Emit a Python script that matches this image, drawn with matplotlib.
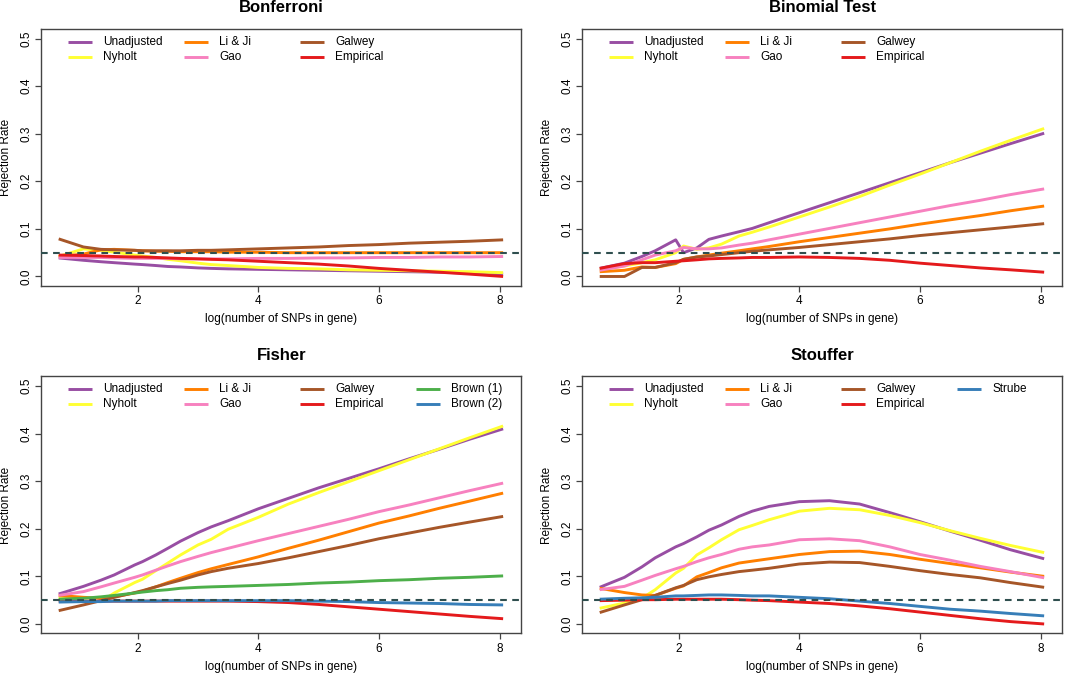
import matplotlib
matplotlib.use("Agg")
import matplotlib.pyplot as plt

plt.rcParams["font.family"] = ["Liberation Sans", "DejaVu Sans"]

# shared x grid: log(number of SNPs in gene)
x_log = [0.69, 1.10, 1.39, 1.61, 1.95, 2.08, 2.30, 2.50, 2.71, 3.00, 3.22,
         3.50, 4.00, 4.50, 5.00, 5.50, 6.00, 6.50, 7.00, 7.50, 8.06]

# Bonferroni
bonf_unadj = [0.039, 0.034, 0.031, 0.029, 0.026, 0.025, 0.023, 0.021, 0.020, 0.018, 0.017,
              0.016, 0.015, 0.014, 0.013, 0.012, 0.011, 0.010, 0.009, 0.007, 0.005]
bonf_nyholt = [0.042, 0.058, 0.055, 0.051, 0.045, 0.043, 0.040, 0.036, 0.033, 0.028, 0.025,
               0.023, 0.019, 0.017, 0.016, 0.014, 0.013, 0.012, 0.011, 0.010, 0.008]
bonf_liji = [0.042, 0.047, 0.056, 0.057, 0.055, 0.054, 0.053, 0.053, 0.052, 0.052, 0.052,
             0.051, 0.051, 0.050, 0.050, 0.050, 0.050, 0.050, 0.050, 0.050, 0.050]
bonf_gao = [0.040, 0.040, 0.040, 0.039, 0.038, 0.038, 0.038, 0.038, 0.037, 0.037, 0.037,
            0.037, 0.038, 0.038, 0.039, 0.039, 0.040, 0.040, 0.041, 0.041, 0.042]
bonf_galwey = [0.079, 0.062, 0.057, 0.056, 0.055, 0.054, 0.054, 0.054, 0.054, 0.055, 0.055,
               0.056, 0.058, 0.060, 0.062, 0.065, 0.067, 0.070, 0.072, 0.074, 0.077]
bonf_emp = [0.045, 0.044, 0.043, 0.042, 0.041, 0.041, 0.040, 0.039, 0.038, 0.037, 0.036,
            0.035, 0.032, 0.029, 0.026, 0.022, 0.017, 0.013, 0.009, 0.005, 0.000]

# Binomial test
binom_unadj = [0.017, 0.028, 0.042, 0.054, 0.077, 0.050, 0.060, 0.078, 0.085, 0.094, 0.101,
               0.113, 0.134, 0.155, 0.176, 0.197, 0.218, 0.239, 0.259, 0.279, 0.301]
binom_nyholt = [0.015, 0.022, 0.029, 0.035, 0.050, 0.064, 0.057, 0.060, 0.068, 0.085, 0.093,
                0.104, 0.125, 0.146, 0.168, 0.192, 0.215, 0.239, 0.263, 0.286, 0.311]
binom_liji = [0.010, 0.013, 0.020, 0.019, 0.027, 0.036, 0.041, 0.045, 0.049, 0.054, 0.058,
              0.063, 0.073, 0.082, 0.091, 0.100, 0.110, 0.119, 0.128, 0.138, 0.148]
binom_gao = [0.013, 0.022, 0.035, 0.045, 0.054, 0.061, 0.058, 0.058, 0.060, 0.066, 0.070,
             0.077, 0.089, 0.101, 0.113, 0.125, 0.137, 0.149, 0.160, 0.172, 0.184]
binom_galwey = [0.000, 0.000, 0.019, 0.019, 0.029, 0.036, 0.041, 0.043, 0.046, 0.050, 0.053,
                0.056, 0.061, 0.067, 0.073, 0.079, 0.086, 0.092, 0.098, 0.104, 0.111]
binom_emp = [0.017, 0.027, 0.029, 0.029, 0.032, 0.033, 0.035, 0.037, 0.038, 0.039, 0.040,
             0.040, 0.041, 0.040, 0.038, 0.034, 0.028, 0.023, 0.018, 0.014, 0.009]

# Fisher
fish_unadj = [0.063, 0.079, 0.092, 0.103, 0.124, 0.131, 0.145, 0.159, 0.174, 0.192, 0.204,
              0.217, 0.242, 0.264, 0.286, 0.306, 0.326, 0.347, 0.367, 0.388, 0.410]
fish_nyholt = [0.056, 0.048, 0.047, 0.065, 0.087, 0.094, 0.112, 0.128, 0.145, 0.166, 0.178,
               0.199, 0.224, 0.252, 0.276, 0.299, 0.322, 0.345, 0.368, 0.391, 0.416]
fish_liji = [0.060, 0.056, 0.054, 0.057, 0.065, 0.069, 0.078, 0.087, 0.096, 0.108, 0.116,
             0.125, 0.141, 0.159, 0.176, 0.194, 0.212, 0.227, 0.243, 0.258, 0.275]
fish_gao = [0.060, 0.068, 0.078, 0.086, 0.098, 0.103, 0.113, 0.122, 0.131, 0.142, 0.150,
            0.159, 0.175, 0.190, 0.205, 0.220, 0.236, 0.250, 0.265, 0.280, 0.296]
fish_galwey = [0.028, 0.040, 0.049, 0.056, 0.066, 0.070, 0.078, 0.085, 0.092, 0.103, 0.110,
               0.117, 0.127, 0.139, 0.152, 0.165, 0.179, 0.191, 0.203, 0.214, 0.226]
fish_emp = [0.048, 0.048, 0.048, 0.048, 0.048, 0.048, 0.048, 0.048, 0.048, 0.048, 0.048,
            0.048, 0.047, 0.045, 0.041, 0.036, 0.031, 0.026, 0.021, 0.016, 0.011]
fish_brown1 = [0.052, 0.054, 0.057, 0.060, 0.065, 0.067, 0.070, 0.072, 0.075, 0.077, 0.078,
               0.079, 0.081, 0.083, 0.086, 0.088, 0.091, 0.093, 0.096, 0.098, 0.101]
fish_brown2 = [0.046, 0.047, 0.047, 0.048, 0.048, 0.048, 0.048, 0.049, 0.049, 0.049, 0.049,
               0.049, 0.049, 0.049, 0.048, 0.047, 0.045, 0.044, 0.043, 0.041, 0.040]

# Stouffer
stouf_unadj = [0.077, 0.098, 0.120, 0.139, 0.162, 0.169, 0.183, 0.197, 0.208, 0.226, 0.237,
               0.247, 0.257, 0.259, 0.252, 0.234, 0.215, 0.195, 0.176, 0.156, 0.137]
stouf_nyholt = [0.033, 0.044, 0.054, 0.072, 0.107, 0.117, 0.145, 0.160, 0.177, 0.198, 0.207,
                0.219, 0.237, 0.243, 0.240, 0.228, 0.213, 0.196, 0.180, 0.165, 0.150]
stouf_liji = [0.075, 0.066, 0.061, 0.060, 0.075, 0.080, 0.099, 0.108, 0.118, 0.128, 0.132,
              0.137, 0.146, 0.152, 0.153, 0.146, 0.136, 0.127, 0.118, 0.109, 0.100]
stouf_gao = [0.072, 0.079, 0.092, 0.102, 0.116, 0.121, 0.131, 0.139, 0.146, 0.157, 0.162,
             0.166, 0.177, 0.179, 0.175, 0.162, 0.146, 0.134, 0.121, 0.110, 0.097]
stouf_galwey = [0.024, 0.040, 0.051, 0.060, 0.076, 0.081, 0.093, 0.099, 0.104, 0.110, 0.113,
                0.117, 0.126, 0.130, 0.129, 0.121, 0.112, 0.104, 0.097, 0.087, 0.077]
stouf_emp = [0.049, 0.050, 0.051, 0.051, 0.052, 0.052, 0.052, 0.052, 0.052, 0.051, 0.050,
             0.049, 0.046, 0.043, 0.038, 0.032, 0.025, 0.018, 0.011, 0.005, 0.000]
stouf_strube = [0.052, 0.054, 0.055, 0.056, 0.059, 0.059, 0.060, 0.061, 0.061, 0.060, 0.059,
                0.059, 0.056, 0.053, 0.048, 0.043, 0.037, 0.031, 0.027, 0.022, 0.017]

alpha_level = 0.05

COLORS = {
    "Unadjusted": "#984EA3",
    "Nyholt": "#FFFF33",
    "Li & Ji": "#FF7F00",
    "Gao": "#F781BF",
    "Galwey": "#A65628",
    "Empirical": "#E41A1C",
    "Brown (1)": "#4DAF4A",
    "Brown (2)": "#377EB8",
    "Strube": "#377EB8",
}

panels = [
    ("Bonferroni", [0.0387, 0.5763],
     [("Unadjusted", bonf_unadj), ("Nyholt", bonf_nyholt), ("Li & Ji", bonf_liji),
      ("Gao", bonf_gao), ("Galwey", bonf_galwey), ("Empirical", bonf_emp)]),
    ("Binomial Test", [0.5467, 0.5763],
     [("Unadjusted", binom_unadj), ("Nyholt", binom_nyholt), ("Li & Ji", binom_liji),
      ("Gao", binom_gao), ("Galwey", binom_galwey), ("Empirical", binom_emp)]),
    ("Fisher", [0.0387, 0.0615],
     [("Unadjusted", fish_unadj), ("Nyholt", fish_nyholt), ("Li & Ji", fish_liji),
      ("Gao", fish_gao), ("Galwey", fish_galwey), ("Empirical", fish_emp),
      ("Brown (1)", fish_brown1), ("Brown (2)", fish_brown2)]),
    ("Stouffer", [0.5467, 0.0615],
     [("Unadjusted", stouf_unadj), ("Nyholt", stouf_nyholt), ("Li & Ji", stouf_liji),
      ("Gao", stouf_gao), ("Galwey", stouf_galwey), ("Empirical", stouf_emp),
      ("Strube", stouf_strube)]),
]

FS = 8.5
BOX_W, BOX_H = 480.0, 257.0  # axes size in pixels

fig = plt.figure(figsize=(10.65, 6.75), dpi=100)

for title, (left, bottom), series in panels:
    ax = fig.add_axes([left, bottom, BOX_W / 1065, BOX_H / 675])
    for name, vals in series:
        ax.plot(x_log, vals, color=COLORS[name], linewidth=2.1, solid_capstyle="butt", zorder=2)
    ax.axhline(alpha_level, color="#2F4F4F", linewidth=1.5, dashes=(3.2, 2.6), zorder=3)

    ax.set_xlim(0.40, 8.36)
    ax.set_ylim(-0.02, 0.52)
    ax.set_xticks([2, 4, 6, 8])
    ax.set_yticks([0.0, 0.1, 0.2, 0.3, 0.4, 0.5])
    ax.set_yticklabels(["0.0", "0.1", "0.2", "0.3", "0.4", "0.5"], rotation=90, va="center")
    ax.tick_params(direction="out", length=4, width=0.9, color="#444444", labelsize=FS, pad=2.5)
    for sp in ax.spines.values():
        sp.set_color("#444444")
        sp.set_linewidth(1.0)

    ax.set_xlabel("log(number of SNPs in gene)", fontsize=FS)
    ax.xaxis.set_label_coords(0.5, -33.5 / BOX_H)
    ax.xaxis.label.set_va("center")
    ax.set_ylabel("Rejection Rate", fontsize=FS)
    ax.yaxis.set_label_coords(-35.0 / BOX_W, 0.5)
    ax.yaxis.label.set_va("center")

    ax.text(0.5, 1 + 21.0 / BOX_H, title, transform=ax.transAxes, ha="center", va="center",
            fontsize=12, fontweight="bold")

    # legend: R-style, equal column widths, no frame
    for i, (name, vals) in enumerate(series):
        col, row = divmod(i, 2)
        hx = (27.1 + col * 116.0) / BOX_W
        hy = 1 - (12.7 + row * 14.9) / BOX_H
        ax.plot([hx, hx + 24.0 / BOX_W], [hy, hy], transform=ax.transAxes,
                color=COLORS[name], linewidth=2.1, solid_capstyle="butt", clip_on=False)
        ax.text(hx + 35.0 / BOX_W, hy, name, transform=ax.transAxes, ha="left", va="center",
                fontsize=FS)

fig.savefig("out.png", dpi=100)
